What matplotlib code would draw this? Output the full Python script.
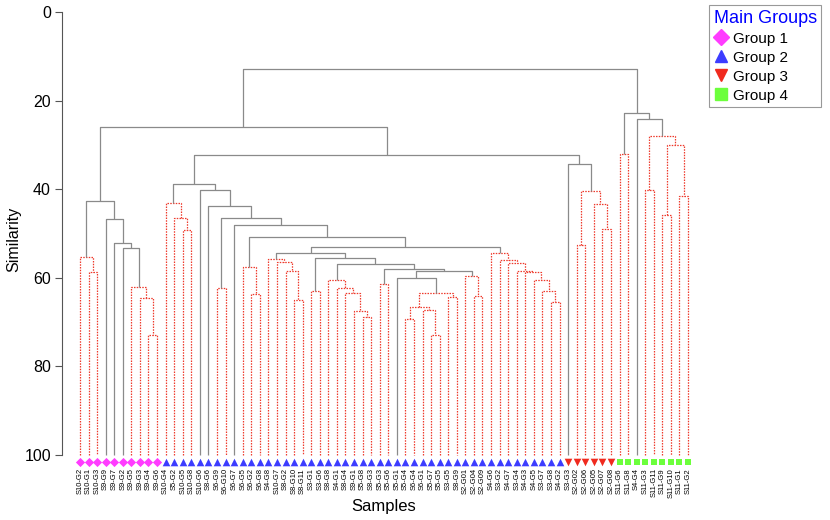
import matplotlib
matplotlib.use("Agg")
import matplotlib.pyplot as plt
from matplotlib.lines import Line2D

plt.rcParams['font.family'] = ['Liberation Sans', 'DejaVu Sans']

# ---------------- data ----------------
leaf_labels = [
    "S10-G2", "S10-G1", "S10-G3", "S9-G9", "S9-G7", "S9-G2", "S9-G5", "S9-G3", "S9-G4", "S9-G6",
    "S10-G4", "S5-G2", "S10-G5", "S10-G8", "S10-G6", "S8-G6", "S6-G9", "S6-G10", "S6-G7", "S6-G5",
    "S6-G2", "S6-G8", "S4-G8", "S10-G7", "S8-G2", "S8-G10", "S8-G11", "S3-G1", "S3-G6", "S8-G8",
    "S4-G1", "S8-G4", "S9-G1", "S5-G8", "S8-G3", "S5-G3", "S5-G6", "S5-G1", "S5-G4", "S6-G4",
    "S6-G1", "S5-G7", "S5-G5", "S3-G5", "S8-G9", "S2-G01", "S2-G04", "S2-G09", "S4-G6", "S3-G2",
    "S4-G7", "S3-G4", "S4-G3", "S4-G5", "S3-G7", "S3-G8", "S4-G2", "S3-G3", "S2-G02", "S2-G06",
    "S2-G05", "S2-G07", "S2-G08", "S11-G6", "S11-G8", "S4-G4", "S11-G3", "S11-G11", "S11-G9", "S11-G10",
    "S11-G1", "S11-G2",
]
leaf_groups = [1] * 10 + [2] * 47 + [3] * 6 + [4] * 9

group_names = ["Group 1", "Group 2", "Group 3", "Group 4"]

# merges: node ids continue after the 72 leaves (72, 73, ...)
merge_left = [1, 0, 8, 7, 6, 5, 4, 3, 73,
              12, 11, 10, 16, 20, 19, 25, 24, 23, 22, 27, 33, 32, 31, 30, 29, 35, 38, 41, 40, 98,
              43, 101, 37, 46, 45, 104, 97, 96, 91, 90, 55, 54, 53, 52, 51, 50, 49, 48, 111,
              86, 18, 84, 15, 14, 83,
              58, 61, 60, 127, 57, 126, 80,
              63, 66, 68, 70, 136, 135, 65, 134, 133]
merge_right = [2, 72, 9, 74, 75, 76, 77, 78, 79,
               13, 81, 82, 17, 21, 85, 26, 87, 88, 89, 28, 34, 92, 93, 94, 95, 36, 39, 42, 99, 100,
               44, 102, 103, 47, 105, 106, 107, 108, 109, 110, 56, 112, 113, 114, 115, 116, 117, 118, 119,
               120, 121, 122, 123, 124, 125,
               59, 62, 128, 129, 130, 131, 132,
               64, 67, 69, 71, 137, 138, 139, 140, 141]
merge_similarity = [58.6, 55.4, 72.9, 64.6, 62.0, 53.3, 52.2, 46.8, 42.6,
                    49.3, 46.4, 43.2, 62.4, 63.7, 57.5, 65.0, 58.4, 56.4, 55.7, 63.0, 68.9, 67.4, 63.5,
                    62.2, 60.5, 61.3, 69.4, 73.0, 67.3, 66.5, 64.4, 63.4, 60.0, 64.1, 59.7, 58.5, 58.0,
                    56.9, 55.6, 54.3, 65.5, 62.9, 60.5, 58.8, 58.4, 56.6, 55.9, 54.3, 53.0,
                    50.7, 48.2, 46.6, 43.9, 40.3, 38.8,
                    52.5, 48.9, 43.3, 40.4, 34.4, 32.3, 26.0,
                    32.1, 40.3, 45.9, 41.5, 30.0, 28.0, 24.2, 22.9, 12.9]
# 1 = significant split (solid grey), 0 = not significant (red dotted)
merge_significant = [0, 0, 0, 0, 0, 1, 1, 1, 1,
                     0, 0, 0, 0, 0, 0, 0, 0, 0, 0, 0, 0, 0, 0, 0, 0, 0, 0, 0, 0, 0, 0, 0, 1, 0, 0, 1, 1,
                     1, 1, 1, 0, 0, 0, 0, 0, 0, 0, 0, 1,
                     1, 1, 1, 1, 1, 1,
                     0, 0, 0, 0, 1, 1, 1,
                     0, 0, 0, 0, 0, 0, 1, 1, 1]

# ---------------- styles ----------------
group_markers = {1: "D", 2: "^", 3: "v", 4: "s"}
group_colors = {1: "#ff3cff", 2: "#3c3cff", 3: "#f02a1e", 4: "#6cff3c"}
group_sizes = {1: 22, 2: 30, 3: 30, 4: 24}
sig_color = "#8a8a8a"
ns_color = "#ee3a2c"

fig = plt.figure(figsize=(8.3, 5.2), dpi=100)
ax = fig.add_axes([62 / 830, 1 - 466 / 520, (706 - 62) / 830, (466 - 12) / 520])

n_leaves = len(leaf_labels)
node_x = {i: float(i) for i in range(n_leaves)}
node_h = {i: 100.0 for i in range(n_leaves)}

for k, (l, r, s, sig) in enumerate(zip(merge_left, merge_right, merge_similarity, merge_significant)):
    nid = n_leaves + k
    xl, xr = node_x[l], node_x[r]
    hl, hr = node_h[l], node_h[r]
    if sig:
        kw = dict(color=sig_color, lw=0.9, ls="-")
    else:
        kw = dict(color=ns_color, lw=0.9, ls=(0, (1.2, 1.0)))
    ax.plot([xl, xl, xr, xr], [hl, s, s, hr], solid_capstyle="butt", **kw)
    node_x[nid] = (xl + xr) / 2
    node_h[nid] = s

# leaf markers
for g in (1, 2, 3, 4):
    xs = [i for i in range(n_leaves) if leaf_groups[i] == g]
    ax.scatter(xs, [101.5] * len(xs), marker=group_markers[g], s=group_sizes[g],
               color=group_colors[g], linewidths=0, clip_on=False, zorder=5)

ax.set_xlim(-2.1, n_leaves - 1 + 2.1)
ax.set_ylim(102.5, 0)

ax.set_xticks(range(n_leaves))
ax.set_xticklabels(leaf_labels, rotation=90, fontsize=5.5)
ax.tick_params(axis="x", length=0, pad=1.5)

ax.set_yticks([0, 20, 40, 60, 80, 100])
ax.tick_params(axis="y", labelsize=11.5, length=5, width=0.8, color="#555555", pad=3)

for sp in ("top", "right", "bottom"):
    ax.spines[sp].set_visible(False)
ax.spines["left"].set_bounds(0, 100)
ax.spines["left"].set_color("#555555")
ax.spines["left"].set_linewidth(0.8)

ax.set_ylabel("Similarity", fontsize=11.5, labelpad=2)
ax.set_xlabel("Samples", fontsize=12, labelpad=1)

handles = [Line2D([], [], marker=group_markers[g], color=group_colors[g], ls="none",
                  markersize=8.5 if g != 1 else 8) for g in (1, 2, 3, 4)]
leg = fig.legend(handles, group_names, title="Main Groups", loc="upper left",
                 bbox_to_anchor=(709 / 830, 1 - 5 / 520), fontsize=11, title_fontsize=13,
                 fancybox=False, edgecolor="#999999", framealpha=1, handletextpad=0.3,
                 borderpad=0.3, labelspacing=0.33, handlelength=1.0, borderaxespad=0,
                 alignment="left")
leg.get_title().set_color("#0000ff")
leg.get_frame().set_linewidth(0.8)

fig.savefig("out.png", dpi=100)
